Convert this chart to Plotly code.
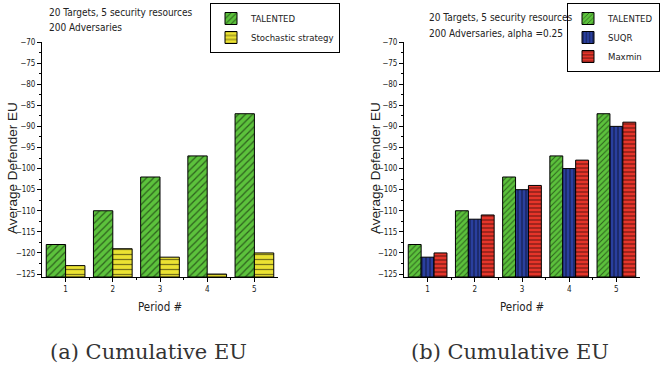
import plotly.graph_objects as go

periods = [1, 2, 3, 4, 5]
period_labels = ["1", "2", "3", "4", "5"]

# Panel (a)
a_talented = [-118, -110, -102, -97, -87]
a_stochastic = [-123, -119, -121, -125, -120]

# Panel (b)
b_talented = [-118, -110, -102, -97, -87]
b_suqr = [-121, -112, -105, -100, -90]
b_maxmin = [-120, -111, -104, -98, -89]

BASE = -125.7
Y_RANGE = [BASE, -70]

W, H = 660, 371
def px(x):
    return x / W
def py(y):
    return 1 - y / H

GREEN = "#5cc23c"
YELLOW = "#ebe232"
BLUE = "#2a3f9e"
RED = "#e5352a"

NARROW = "DejaVu Sans Condensed, Liberation Sans Narrow, Arial Narrow"
SANS = "Liberation Sans, Arial"

def bar(name, vals, color, shape, xa, ya, legend, size=5, solidity=0.3):
    return go.Bar(
        x=periods, y=[v - BASE for v in vals], base=BASE, name=name,
        xaxis=xa, yaxis=ya, legend=legend,
        marker=dict(color=color, line=dict(color="black", width=1),
                    pattern=dict(shape=shape, fgcolor="black", bgcolor=color,
                                 size=size, solidity=solidity, fillmode="overlay")),
    )

fig = go.Figure()
fig.add_trace(bar("TALENTED", a_talented, GREEN, "/", "x", "y", "legend", 5, 0.25))
fig.add_trace(bar("Stochastic strategy", a_stochastic, YELLOW, "-", "x", "y", "legend", 5, 0.25))
fig.add_trace(bar("TALENTED", b_talented, GREEN, "/", "x2", "y2", "legend2", 4, 0.25))
fig.add_trace(bar("SUQR", b_suqr, BLUE, "|", "x2", "y2", "legend2", 4, 0.3))
fig.add_trace(bar("Maxmin", b_maxmin, RED, "-", "x2", "y2", "legend2", 4, 0.3))

tickfont = dict(family=NARROW, size=8, color="#222")
yax = dict(range=Y_RANGE, dtick=5, tick0=-125, ticks="outside", ticklen=4, tickwidth=1,
           showline=True, linecolor="black", linewidth=1, showgrid=False, zeroline=False,
           tickfont=tickfont, minor=dict(dtick=2.5, ticks="outside", ticklen=2, tickcolor="black"),
           tickcolor="black", domain=[py(277), py(42)])
xax = dict(range=[0.5, 5.5], tickvals=periods, ticktext=period_labels, ticks="outside",
           ticklen=4, tickwidth=1, showline=True, linecolor="black", linewidth=1,
           showgrid=False, zeroline=False, tickfont=tickfont, tickcolor="black",
           minor=dict(tickvals=[1.5, 2.5, 3.5, 4.5], ticks="outside", ticklen=2, tickcolor="black"))

leg_common = dict(yanchor="top", bordercolor="black", borderwidth=1,
                  bgcolor="white", font=dict(family=NARROW, size=9.5, color="#222"),
                  itemwidth=30, tracegroupgap=0)

fig.update_layout(
    width=W, height=H, margin=dict(l=0, r=0, t=0, b=0, autoexpand=False),
    paper_bgcolor="white", plot_bgcolor="white",
    barmode="group", bargap=0.18, bargroupgap=0,
    xaxis=dict(xax, domain=[px(42), px(278)], anchor="y"),
    yaxis=dict(yax, anchor="x"),
    xaxis2=dict(xax, domain=[px(404), px(640)], anchor="y2"),
    yaxis2=dict(yax, anchor="x2"),
    legend=dict(leg_common, x=px(210), xanchor="left", y=py(3)),
    legend2=dict(leg_common, x=1.0, xanchor="right", y=py(3)),
    showlegend=True,
)

ann_font = dict(family=NARROW, size=10, color="#222")
anns = [
    (47, 12, "20 Targets, 5 security resources"),
    (47, 28, "200 Adversaries"),
    (427, 17, "20 Targets, 5 security resources"),
    (427, 33, "200 Adversaries, alpha =0.25"),
]
for x, y, t in anns:
    fig.add_annotation(x=px(x), y=py(y), xref="paper", yref="paper", text=t,
                       showarrow=False, xanchor="left", yanchor="middle", font=ann_font)

for x in (12, 375):
    fig.add_annotation(x=px(x), y=py(168), xref="paper", yref="paper",
                       text="Average Defender EU", textangle=-90, showarrow=False,
                       xanchor="center", yanchor="middle",
                       font=dict(family=SANS, size=13.5, color="#222"))
for x in (160, 522):
    fig.add_annotation(x=px(x), y=py(307), xref="paper", yref="paper",
                       text="Period #", showarrow=False, xanchor="center",
                       yanchor="middle", font=dict(family=NARROW, size=11.5, color="#222"))

cap_font = dict(family="DejaVu Serif, Liberation Serif, serif", size=21, color="#333")
fig.add_annotation(x=px(148), y=py(352), xref="paper", yref="paper",
                   text="(a) Cumulative EU", showarrow=False, xanchor="center",
                   yanchor="middle", font=cap_font)
fig.add_annotation(x=px(510), y=py(352), xref="paper", yref="paper",
                   text="(b) Cumulative EU", showarrow=False, xanchor="center",
                   yanchor="middle", font=cap_font)

fig.write_html("out.html")
